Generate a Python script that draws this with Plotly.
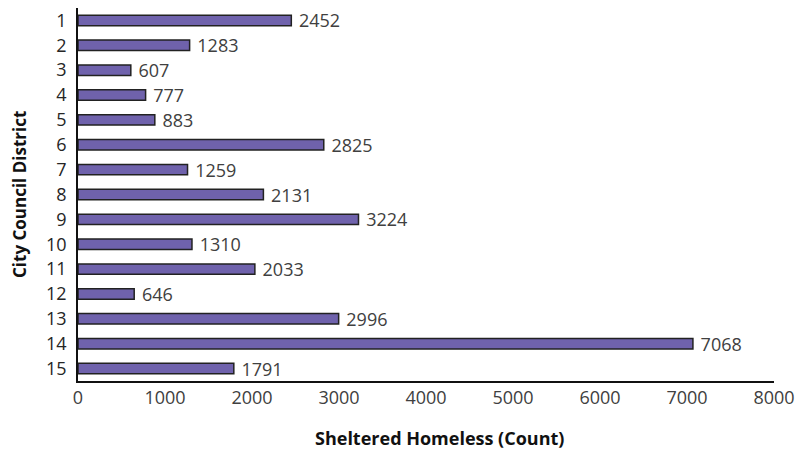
import plotly.graph_objects as go

districts = [str(i) for i in range(1, 16)]
counts = [2452, 1283, 607, 777, 883, 2825, 1259, 2131, 3224, 1310, 2033, 646, 2996, 7068, 1791]
x_ticks = [0, 1000, 2000, 3000, 4000, 5000, 6000, 7000, 8000]
x_title = "Sheltered Homeless (Count)"
y_title = "City Council District"

# page has an 8px body margin; figure coords = page coords - 8
W, H = 796, 446
L, R, T, B = 70, 30, 0, 73
PW, PH = W - L - R, H - T - B

fig = go.Figure(go.Bar(
    x=counts, y=districts, orientation="h",
    width=0.42,
    marker=dict(color="#6F62AC", line=dict(color="#222222", width=1.5)),
    texttemplate=" %{x}", textposition="outside",
    constraintext="none",
    textfont=dict(family="Open Sans", size=18, color="#404040"),
    cliponaxis=False,
))

fig.update_layout(
    width=W, height=H,
    margin=dict(l=L, r=R, t=T, b=B, pad=0),
    paper_bgcolor="white", plot_bgcolor="white",
    showlegend=False,
    font=dict(family="Open Sans", color="#404040"),
    xaxis=dict(
        range=[0, 8000], tickvals=x_ticks, showgrid=False, zeroline=False,
        showline=True, linecolor="#111111", linewidth=1.5,
        tickfont=dict(size=18, color="#404040"), automargin=False,
    ),
    yaxis=dict(
        autorange="reversed", showgrid=False, zeroline=False,
        showline=True, linecolor="#111111", linewidth=1.5,
        tickfont=dict(size=18, color="#262626"), ticklabelstandoff=6,
        automargin=False,
    ),
    bargap=0.5,
    annotations=[
        dict(text="<b>" + x_title + "</b>", xref="paper", yref="paper",
             x=(432 - L) / PW, y=-(430 - (H - B)) / PH,
             xanchor="center", yanchor="middle", showarrow=False,
             font=dict(size=18, color="#111111")),
        dict(text="<b>" + y_title + "</b>", xref="paper", yref="paper",
             x=-(L - 11) / PW, y=((H - B) - 187) / PH,
             xanchor="center", yanchor="middle", showarrow=False, textangle=-90,
             font=dict(size=17, color="#111111")),
    ],
)

fig.write_html("out.html")
